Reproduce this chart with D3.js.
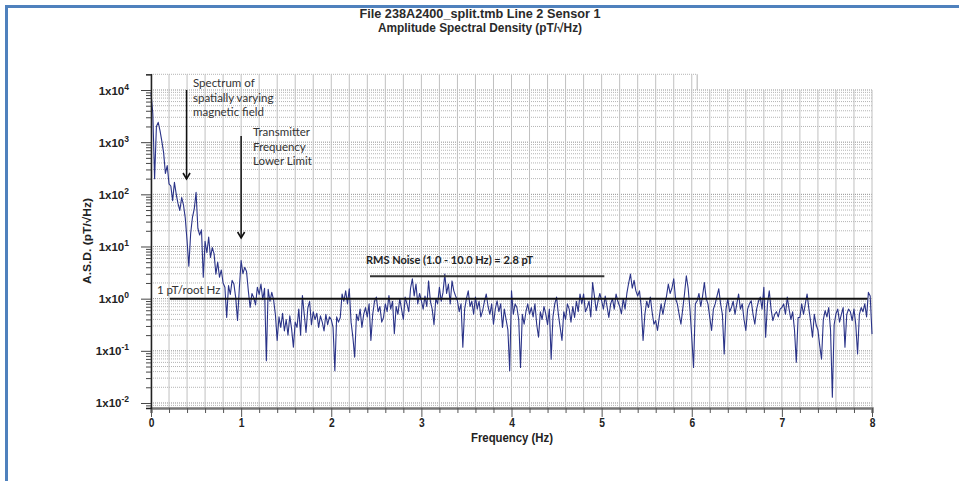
<!DOCTYPE html>
<html>
<head>
<meta charset="utf-8">
<script src="https://cdn.jsdelivr.net/npm/d3@7"></script>
<style>
  html, body { margin: 0; padding: 0; background: #fff; }
  svg { display: block; }
</style>
</head>
<body>
<svg id="chart" width="959" height="481"></svg>
<script>
// ---------------- DATA ----------------
const titleLines = ["File 238A2400_split.tmb Line 2 Sensor 1", "Amplitude Spectral Density (pT/\u221AHz)"];
const xTitle = "Frequency (Hz)";
const yTitle = "A.S.D. (pT/\u221AHz)";
const xTickLabels = ["0", "1", "2", "3", "4", "5", "6", "7", "8"];
const yDecadeExponents = ["-2", "-1", "0", "1", "2", "3", "4"];
const freqStepHz = 0.02;
// log10 of amplitude spectral density (pT/sqrt(Hz)), one value every 0.02 Hz from 0 to 8 Hz
const asdExponent = [
  3.95, 3.55, 2.30, 3.30, 3.38, 3.22, 3.02, 2.80, 2.40, 2.55,
  2.20, 2.16, 1.88, 2.23, 2.00, 1.82, 1.69, 1.94, 1.80, 1.55,
  1.11, 0.62, 1.25, 1.56, 1.72, 2.04, 1.35, 1.22, 1.32, 0.41,
  1.10, 0.88, 1.18, 0.79, 0.98, 0.86, 0.47, 0.70, 0.41, 0.55,
  0.30, 0.22, -0.36, 0.25, 0.08, 0.35, 0.28, 0.02, -0.42, 0.20,
  0.73, 0.48, 0.60, 0.52, 0.15, -0.17, 0.10, 0.02, -0.12, 0.22,
  0.08, 0.28, -0.02, 0.20, -1.19, 0.18, -0.05, 0.12, -0.02, -0.30,
  -0.80, -0.35, -0.55, -0.28, -0.62, -0.40, -0.70, -0.33, -0.58, -0.93,
  -0.45, -0.55, -0.20, -0.70, 0.06, -0.30, -0.65, -0.18, -0.05, -0.50,
  -0.25, -0.40, -0.28, -0.55, -0.33, -0.45, -0.62, -0.30, -0.50, -0.35,
  -0.40, -0.55, -1.38, -0.35, -0.45, -0.36, 0.09, -0.05, 0.15, -0.10,
  0.19, -0.45, -0.74, -1.12, -0.30, -0.42, -0.20, -0.55, -0.30, -0.17,
  -0.35, -0.10, -0.80, -0.30, -0.05, 0.03, -0.25, -0.15, -0.45, -0.36,
  -0.10, -0.25, 0.06, -0.20, -0.05, -0.67, -0.15, -0.30, 0.00, -0.20,
  -0.40, 0.03, -0.10, -0.25, 0.20, 0.38, 0.05, 0.28, -0.10, 0.10,
  -0.04, -0.20, 0.05, -0.15, 0.34, -0.05, -0.20, -0.50, 0.00, -0.10,
  0.22, -0.05, 0.12, 0.47, 0.10, 0.28, -0.10, 0.34, 0.15, 0.05,
  -0.04, -0.25, -0.10, -0.93, -0.20, 0.00, 0.15, -0.15, -0.05, -0.30,
  0.03, -0.20, -0.05, -0.35, -0.23, -0.05, 0.09, -0.15, -0.30, -0.10,
  -0.49, -0.20, -0.04, -0.25, -0.10, -0.55, -0.20, -0.40, -0.60, -1.38,
  0.15, -0.30, -0.10, -0.17, -0.40, -1.32, -0.30, -0.49, -0.25, -0.10,
  -0.30, -0.17, -0.35, -0.10, -0.50, -0.74, -0.25, -0.40, -0.15, -0.29,
  -0.50, -0.20, -1.16, -0.35, -0.10, 0.03, -0.30, -0.55, -0.80, -0.25,
  -0.40, -0.10, -0.20, -0.45, -0.15, -0.36, -0.05, -0.25, 0.09, -0.10,
  0.09, -0.25, -0.17, -0.05, -0.35, 0.31, 0.05, -0.23, -0.05, 0.10,
  -0.04, -0.20, 0.05, -0.15, -0.36, -0.10, 0.00, -0.20, 0.09, -0.05,
  -0.15, -0.29, 0.00, -0.20, 0.10, 0.30, 0.47, 0.20, 0.35, 0.15,
  0.05, 0.15, -0.17, -0.80, -0.30, -0.05, -0.17, 0.03, -0.25, -0.49,
  -0.42, -0.61, -0.35, -0.10, -0.30, -0.10, 0.05, 0.28, 0.10, 0.20,
  0.38, 0.00, -0.10, -0.30, -0.49, -0.20, 0.10, 0.44, 0.20, -0.20,
  -0.74, -1.32, -0.10, -0.04, 0.10, -0.15, 0.05, 0.31, 0.00, -0.10,
  -0.36, -0.61, -0.20, -0.10, 0.05, 0.19, -0.10, -0.30, -1.06, -0.20,
  0.00, -0.25, -0.17, -0.05, -0.30, -0.10, 0.09, -0.20, -0.10, -0.40,
  -0.61, -0.20, -0.10, -0.04, -0.30, -0.49, -0.20, -0.05, 0.03, -0.20,
  0.22, -0.74, -0.10, 0.15, -0.20, -0.42, -0.30, -0.25, -0.35, -0.20,
  -0.17, -0.10, -0.30, 0.03, -0.20, -0.40, -0.25, -0.60, -1.22, -0.36,
  -0.36, -0.10, -0.30, -0.10, 0.09, -0.20, -0.45, -0.74, -0.30, -0.50,
  -0.60, -0.90, -1.16, -0.40, -0.23, -0.35, -0.17, -0.60, -1.89, -0.50,
  -0.29, -0.20, -0.45, -0.30, -0.17, -0.93, -0.30, -0.20, -0.25, -0.42,
  -0.20, -0.50, -1.06, -0.30, -0.17, -0.25, -0.10, -0.35, 0.12, 0.05,
  -0.68
];
const annotationSpectrum = ["Spectrum of", "spatially varying", "magnetic field"];
const annotationSpectrumHz = 0.4;
const annotationTransmitter = ["Transmitter", "Frequency", "Lower Limit"];
const annotationTransmitterHz = 1.0;
const referenceLevel = { label: "1 pT/root Hz", value: 1, fromHz: 0.21, toHz: 7.95 };
const rmsNoise = { label: "RMS Noise (1.0 - 10.0 Hz) = 2.8 pT", fromHz: 2.43, toHz: 5.03, value: 2.7 };
const gridCutHz = 6.06;

// ---------------- DRAW ----------------
const svg = d3.select("#chart");
const sans = "'Liberation Sans',Arial,sans-serif";
const calib = "Lato,'Open Sans',sans-serif";

const x = d3.scaleLinear().domain([0, 8]).range([151, 872]);
const y = d3.scaleLog().domain([Math.pow(10, -2.096), 2e4]).range([408, 74.3]);

// frame
svg.append("rect").attr("x", 5).attr("y", 5).attr("width", 954).attr("height", 3).attr("fill", "#4f81bd");
svg.append("rect").attr("x", 5).attr("y", 5).attr("width", 3).attr("height", 476).attr("fill", "#4f81bd");

// titles
const titleWidths = [241, 204];
svg.append("g").selectAll("text").data(titleLines).join("text")
  .attr("x", 480).attr("y", (d, i) => 18 + i * 14)
  .attr("text-anchor", "middle")
  .attr("textLength", (d, i) => titleWidths[i]).attr("lengthAdjust", "spacingAndGlyphs")
  .attr("font-family", sans).attr("font-size", 12.5).attr("font-weight", "bold")
  .attr("fill", "#2a2a2a").text(d => d);

// grid
const grid = svg.append("g");
const levels = [];
for (let e = -3; e <= 4; e++) for (let m = 1; m <= 9; m++) {
  const v = m * Math.pow(10, e);
  if (v >= y.domain()[0] && v <= 2e4 * 1.0001) levels.push({ v, major: m === 1 });
}
grid.selectAll("line.h").data(levels).join("line")
  .attr("x1", x(0))
  .attr("x2", d => d.v > 1.5e4 ? x(gridCutHz) : x(8))
  .attr("y1", d => y(d.v)).attr("y2", d => y(d.v))
  .attr("stroke", d => d.major ? "#909090" : "#b4b4b4")
  .attr("stroke-width", 1)
  .attr("stroke-dasharray", "1,1");
const vticks = d3.range(0, 40 + 1).map(i => i * 0.2);
grid.selectAll("line.v").data(vticks).join("line")
  .attr("x1", d => x(d)).attr("x2", d => x(d))
  .attr("y1", d => d <= gridCutHz ? y(2e4) : y(1e4))
  .attr("y2", y.range()[0])
  .attr("stroke", "#c0c0c0").attr("stroke-width", 1);
grid.append("line").attr("x1", x(gridCutHz)).attr("x2", x(gridCutHz))
  .attr("y1", y(2e4)).attr("y2", y(1e4)).attr("stroke", "#b0b0b0");

// data line
const line = d3.line()
  .x((d, i) => x(i * freqStepHz))
  .y(d => y(Math.pow(10, d)));
svg.append("path").datum(asdExponent)
  .attr("d", line).attr("fill", "none")
  .attr("stroke", "#2a3388").attr("stroke-width", 1.1).attr("stroke-linejoin", "round");

// x axis
const isInt = d => Math.abs(d - Math.round(d)) < 1e-6;
const xAxis = d3.axisBottom(x).tickValues(vticks).tickSize(5)
  .tickFormat(d => isInt(d) ? xTickLabels[Math.round(d)] : "");
const gx = svg.append("g").attr("transform", `translate(0,${y.range()[0]})`).call(xAxis);
gx.select(".domain").attr("stroke", "#777").attr("stroke-width", 2.5);
gx.selectAll(".tick line").attr("stroke", "#555").attr("y2", d => isInt(d) ? 9 : 5);
gx.selectAll(".tick text").attr("dy", 0).attr("y", 19).attr("x", 0)
  .attr("font-family", sans).attr("font-size", 12.5).attr("font-weight", "bold").attr("fill", "#222")
  .attr("transform", "scale(0.82,1)");
svg.append("text").attr("x", 512).attr("y", 442).attr("text-anchor", "middle")
  .attr("textLength", 82).attr("lengthAdjust", "spacingAndGlyphs")
  .attr("font-family", sans).attr("font-size", 12).attr("font-weight", "bold").attr("fill", "#222")
  .text(xTitle);

// y axis
const yAxis = d3.axisLeft(y).tickValues(levels.map(d => d.v)).tickSize(5).tickFormat("");
const gy = svg.append("g").attr("transform", `translate(${x(0)},0)`).call(yAxis);
gy.select(".domain").attr("stroke", "#222").attr("stroke-width", 1.5);
gy.selectAll(".tick line").attr("stroke", "#444")
  .attr("x2", (d, i) => levels[i].major ? -10 : -5);
const yl = svg.append("g");
yDecadeExponents.forEach(ex => {
  const t = yl.append("text")
    .attr("x", 129).attr("y", y(Math.pow(10, +ex)) + 4.5)
    .attr("text-anchor", "end")
    .attr("font-family", sans).attr("font-size", 11.5).attr("font-weight", "bold").attr("fill", "#222");
  t.append("tspan").text("1x10");
  t.append("tspan").attr("dy", -5).attr("font-size", 8.5).text(ex);
});
svg.append("text")
  .attr("transform", `translate(91,241) rotate(-90)`)
  .attr("text-anchor", "middle")
  .attr("textLength", 86).attr("lengthAdjust", "spacingAndGlyphs")
  .attr("font-family", sans).attr("font-size", 11.5).attr("font-weight", "bold").attr("fill", "#222")
  .text(yTitle);

// reference lines
svg.append("line")
  .attr("x1", x(referenceLevel.fromHz)).attr("x2", x(referenceLevel.toHz))
  .attr("y1", y(referenceLevel.value)).attr("y2", y(referenceLevel.value))
  .attr("stroke", "#111").attr("stroke-width", 2);
svg.append("text").attr("x", x(0) + 6).attr("y", y(referenceLevel.value) - 5)
  .attr("font-family", calib).attr("font-size", 11.5).attr("fill", "#333").text(referenceLevel.label);
svg.append("line")
  .attr("x1", x(rmsNoise.fromHz)).attr("x2", x(rmsNoise.toHz))
  .attr("y1", y(rmsNoise.value)).attr("y2", y(rmsNoise.value))
  .attr("stroke", "#333").attr("stroke-width", 2);
svg.append("text").attr("x", x(rmsNoise.fromHz) - 4).attr("y", y(rmsNoise.value) - 12)
  .attr("font-family", calib).attr("font-size", 11).attr("font-weight", "bold").attr("fill", "#222").text(rmsNoise.label);

// annotations
function arrow(xp, y1, y2) {
  svg.append("line").attr("x1", xp).attr("x2", xp).attr("y1", y1).attr("y2", y2)
    .attr("stroke", "#111").attr("stroke-width", 1.5);
  svg.append("path").attr("d", `M${xp - 3.5},${y2 - 6} L${xp},${y2} L${xp + 3.5},${y2 - 6}`)
    .attr("fill", "none").attr("stroke", "#111").attr("stroke-width", 1.6);
}
arrow(x(annotationSpectrumHz) - 0.5, 90, 179);
arrow(x(annotationTransmitterHz), 136, 238);
svg.append("g").selectAll("text").data(annotationSpectrum).join("text")
  .attr("x", 193).attr("y", (d, i) => 87 + i * 14.5)
  .attr("font-family", calib).attr("font-size", 11.5).attr("fill", "#333").text(d => d);
svg.append("g").selectAll("text").data(annotationTransmitter).join("text")
  .attr("x", 253).attr("y", (d, i) => 136 + i * 14.5)
  .attr("font-family", calib).attr("font-size", 11.5).attr("fill", "#333").text(d => d);
</script>
</body>
</html>
